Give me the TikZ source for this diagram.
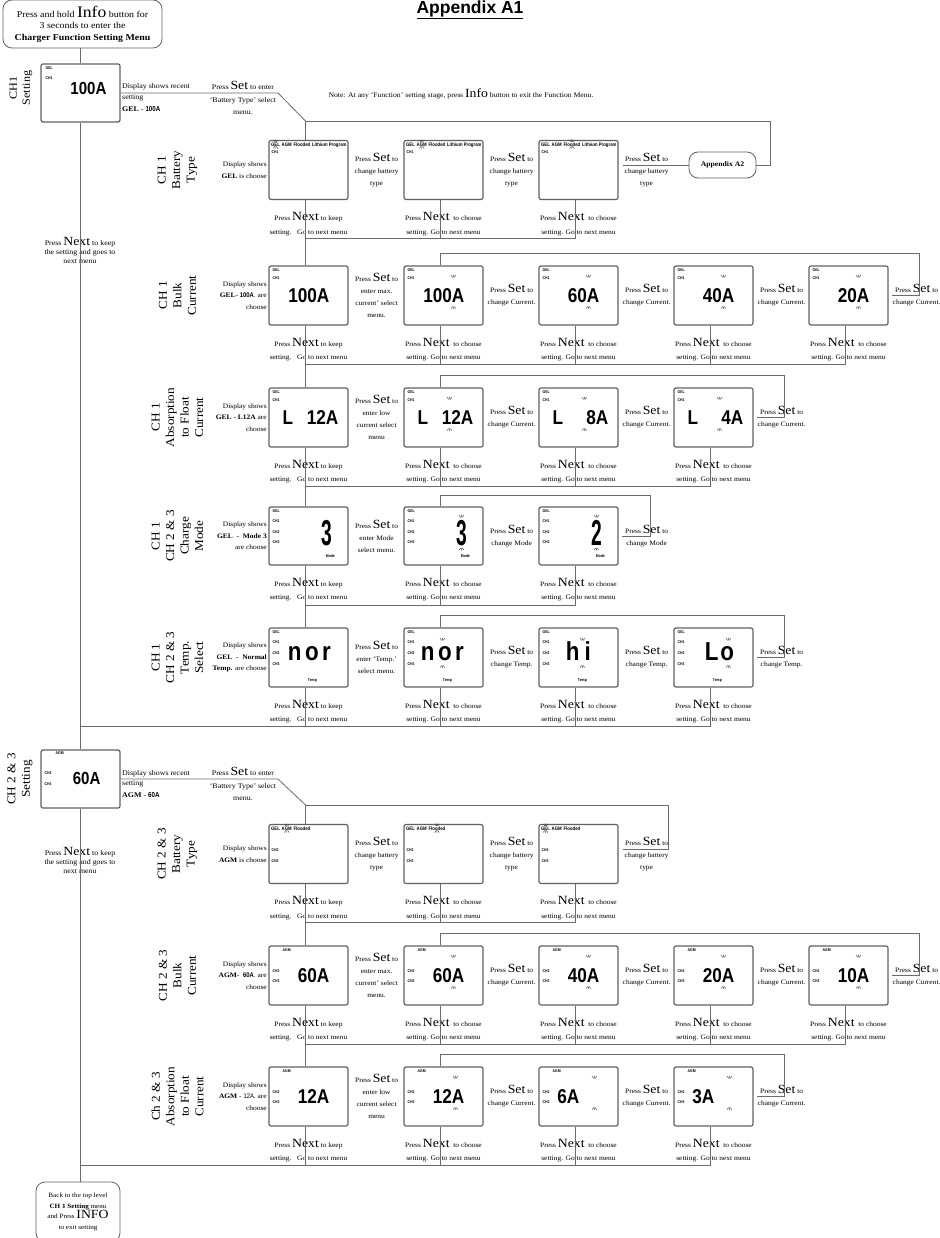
\documentclass[tikz,border=0pt]{standalone}
\usepackage{fontspec}
\setmainfont{Liberation Serif}[FakeStretch=1.1]
\newfontfamily\lcdfont{Liberation Sans}[FakeStretch=0.86]
\newfontfamily\headfont{Liberation Sans}
\usepackage{graphicx}
\usetikzlibrary{positioning, calc}

\newcommand\bigword[1]{{\fontsize{12.5}{12.5}\selectfont #1}}
\newcommand\keeptext{Press \bigword{Next} to keep\\setting.\ \ \ Go to next menu}
\newcommand\choosetext{Press \bigword{Next} \ to choose\\setting. Go to next menu}
\newcommand\pressset[1]{Press \bigword{Set} to\\#1}

\tikzset{
  wire/.style     = {draw=black!58, line width=0.8pt},
  lcd/.style      = {draw=black!62, line width=1.2pt, rounded corners=2pt,
                     minimum width=79pt, minimum height=59pt, inner sep=0pt},
  roundbox/.style = {draw=black!62, line width=0.8pt, rounded corners=9pt,
                     align=center, inner sep=0pt},
  tag/.style      = {font=\lcdfont\bfseries\fontsize{4}{4}\selectfont,
                     inner sep=0pt, anchor=west},
  btag/.style     = {font=\lcdfont\bfseries\fontsize{5}{5}\selectfont,
                     inner sep=0pt, anchor=west},
  val/.style      = {font=\lcdfont\bfseries\fontsize{20}{20}\selectfont,
                     inner sep=0pt, anchor=east},
  seg/.style      = {font=\lcdfont\bfseries\fontsize{36}{36}\selectfont,
                     inner sep=0pt, anchor=base},
  segtemp/.style  = {font=\lcdfont\bfseries\fontsize{26}{26}\selectfont,
                     inner sep=0pt, anchor=base},
  small/.style    = {font=\fontsize{6.8}{12}\selectfont, align=center, inner sep=0pt},
  nexttext/.style = {font=\fontsize{6.8}{13.5}\selectfont, align=center, inner sep=0pt},
  disp/.style     = {font=\fontsize{6.8}{11.5}\selectfont, align=right,
                     inner sep=0pt, anchor=east},
  rowlab/.style   = {font=\fontsize{12}{14.5}\selectfont, align=center,
                     rotate=90, inner sep=0pt},
  blink/.style    = {draw=black!75, line width=0.45pt},
  blinkup/.pic    = {\draw[blink] (-2.4pt,2.2pt) -- (-0.7pt,0pt)
                       (0pt,2.8pt) -- (0pt,0.2pt) (2.4pt,2.2pt) -- (0.7pt,0pt);},
  blinkdn/.pic    = {\draw[blink] (-2.4pt,-2.2pt) -- (-0.7pt,0pt)
                       (0pt,-2.8pt) -- (0pt,-0.2pt) (2.4pt,-2.2pt) -- (0.7pt,0pt);},
}

\begin{document}
\begin{tikzpicture}[x=1pt, y=-1pt]
\useasboundingbox (0,0) rectangle (939,1238);

%% --- Title, start box and note ----------------------------------------
\node[font=\headfont\bfseries\fontsize{17.5}{18}\selectfont] (title) at (470,10)
    {\underline{Appendix A1}};
\node[roundbox, minimum width=159pt, minimum height=48pt,
      font=\fontsize{9}{11.5}\selectfont] (start) at (82.5,24)
    {Press and hold {\fontsize{16}{16}\selectfont Info} button for\\3 seconds to enter the\\
     \textbf{Charger Function Setting Menu}};
\node[font=\fontsize{7}{12}\selectfont, inner sep=0pt] (note) at (461,94)
    {Note: At any `Function' setting stage, press \bigword{Info} button to exit the Function Menu.};

%% --- CH 1 setting -----------------------------------------------------
\node[rowlab, font=\fontsize{11}{13}\selectfont] (ch1L) at (21,88) {CH1\\Setting};
\node[lcd, minimum height=58pt] (ch1) at (80.5,93) {};
\node[tag] (ch1-t1) at ([shift={(5pt,-5pt)}]ch1.north west) {GEL};
\node[tag] (ch1-t2) at ([shift={(5pt,-15pt)}]ch1.north west) {CH1};
\node[val, font=\lcdfont\bfseries\fontsize{17.5}{17.5}\selectfont] (ch1-v)
    at ([shift={(-14pt,5pt)}]ch1.east) {100A};
\node[font=\fontsize{7.2}{12}\selectfont, inner sep=0pt, anchor=base west] (ch1D)
    at (122,89) {Display shows recent};
\node[font=\fontsize{7.2}{12}\selectfont, inner sep=0pt, anchor=north west, align=left] (ch1G)
    at (122,95) {setting\\\textbf{GEL} - {\lcdfont\bfseries 100A}};
\node[small, font=\fontsize{7.2}{12.5}\selectfont] (ch1S) at (243,98)
    {Press \bigword{Set} to enter\\`Battery Type' select\\menu.};
\coordinate (ch1K) at (278,93);
\node[small, font=\fontsize{7.2}{9}\selectfont] (keep1) at (80,250)
    {Press \bigword{Next} to keep\\the setting and goes to\\next menu};

%% --- CH 1 Battery Type ------------------------------------------------
\node[rowlab] (baL) at (177.5,170) {CH 1\\Battery\\Type};
\node[disp] (baD) at (267,170) {Display shows\\\textbf{GEL} is choose};
\foreach \s [count=\i] in {GEL,AGM,Flooded}{
  \node[lcd] (ba\i) at (173.5+135*\i,170) {};
  \node[btag] (ba\i-GEL) at ([shift={(2.5pt,-4.5pt)}]ba\i.north west) {GEL};
  \node[btag, base right=1.4pt of ba\i-GEL] (ba\i-AGM) {AGM};
  \node[btag, base right=1.4pt of ba\i-AGM] (ba\i-Flooded) {Flooded};
  \node[btag, base right=1.4pt of ba\i-Flooded] (ba\i-Lith) {Lithium Program};
  \node[tag] (ba\i-ch) at ([shift={(3pt,-12.5pt)}]ba\i.north west) {CH1};
  \pic at ([yshift=0.3pt]ba\i-\s.north) {blinkup};
  \pic at (ba\i-\s.south) {blinkdn};
  \coordinate (baV\i) at ([xshift=-3pt]ba\i.south);
  \node[nexttext] (baN\i) at ([yshift=-24pt]ba\i.south) {\ifnum\i=1 \keeptext\else\choosetext\fi};
  \node[small] (baS\i) at ($(ba\i.east)+(28pt,0pt)$) {\pressset{change battery\\type}};
}
\node[roundbox, minimum width=67pt, minimum height=26pt,
      font=\bfseries\fontsize{7}{8}\selectfont] (apx) at (722.5,165) {Appendix A2};
\coordinate (baT) at (0,121);
\coordinate (baB) at (0,238);
\coordinate (baX) at (770,121);
\coordinate (baE) at (623,165);
\draw[wire] (start.south -| ch1.north) -- (ch1.north);
\draw[wire] (ch1.east) -- (ch1K) -- (baV1 |- baT) -- (baV1 |- ba1.north);
\draw[wire] (apx.east) -| (baX) -- (baV1 |- baT);
\draw[wire] (baE) -- (apx.west);
\foreach \i in {1,2,3} \draw[wire] (baV\i) -- (baV\i |- baB);
\draw[wire] (baV1 |- baB) -- (baV3 |- baB);

%% --- CH 1 Bulk Current ------------------------------------------------
\node[rowlab] (buL) at (177.5,295.5) {CH 1\\Bulk\\Current};
\node[disp] (buD) at (267,295.5) {Display shows\\\textbf{GEL}- {\lcdfont\bfseries 100A}. are\\choose};
\foreach \v/\m [count=\i] in {100A/0,100A/1,60A/1,40A/1,20A/1}{
  \node[lcd] (bu\i) at (173.5+135*\i,295.5) {};
  \node[tag] (bu\i-t1) at ([shift={(4pt,-5pt)}]bu\i.north west) {GEL};
  \node[tag] (bu\i-t2) at ([shift={(4pt,-13pt)}]bu\i.north west) {CH1};
  \node[val] (bu\i-v) at ([xshift=-19pt]bu\i.east) {\v};
  \ifnum\m=1
    \pic at ([shift={(50pt,-12pt)}]bu\i.north west) {blinkup};
    \pic at ([shift={(50pt,-41pt)}]bu\i.north west) {blinkdn};
  \fi
  \coordinate (buV\i) at ([xshift=-3pt]bu\i.south);
  \node[nexttext] (buN\i) at ([yshift=-24pt]bu\i.south) {\ifnum\i=1 \keeptext\else\choosetext\fi};
  \node[small] (buS\i) at ($(bu\i.east)+(28pt,0pt)$)
    {\ifnum\i=1 \pressset{enter max.\\current' select\\menu.}\else\pressset{change Current.}\fi};
}
\coordinate (buT) at (0,253);
\coordinate (buB) at (0,364);
\coordinate (buX) at (919,295.5);
\coordinate (buE) at (892,295.5);
\draw[wire] (baV1 |- baB) -- (baV1 |- bu1.north);
\draw[wire] (buV2 |- bu2.north) -- (buV2 |- buT) -| (buX) -- (buE);
\foreach \i in {1,...,5} \draw[wire] (buV\i) -- (buV\i |- buB);
\draw[wire] (buV1 |- buB) -- (buV5 |- buB);

%% --- CH 1 Absorption to Float Current ---------------------------------
\node[rowlab] (abL) at (177.5,417.5) {CH 1\\Absorption\\to Float\\Current};
\node[disp] (abD) at (267,417.5) {Display shows\\\textbf{GEL - L12A} are\\choose};
\foreach \v/\m [count=\i] in {12A/0,12A/1,8A/1,4A/1}{
  \node[lcd] (ab\i) at (173.5+135*\i,417.5) {};
  \node[tag] (ab\i-t1) at ([shift={(4pt,-5pt)}]ab\i.north west) {GEL};
  \node[tag] (ab\i-t2) at ([shift={(4pt,-13pt)}]ab\i.north west) {CH1};
  \node[val, anchor=west] (ab\i-l) at ([xshift=14pt]ab\i.west) {L};
  \node[val] (ab\i-v) at ([xshift=-10pt]ab\i.east) {\v};
  \ifnum\m=1
    \pic at ([shift={(46pt,-12pt)}]ab\i.north west) {blinkup};
    \pic at ([shift={(46pt,-41pt)}]ab\i.north west) {blinkdn};
  \fi
  \coordinate (abV\i) at ([xshift=-3pt]ab\i.south);
  \node[nexttext] (abN\i) at ([yshift=-24pt]ab\i.south) {\ifnum\i=1 \keeptext\else\choosetext\fi};
  \node[small] (abS\i) at ($(ab\i.east)+(28pt,0pt)$)
    {\ifnum\i=1 \pressset{enter low\\current select\\menu}\else\pressset{change Current.}\fi};
}
\coordinate (abT) at (0,375);
\coordinate (abB) at (0,486);
\coordinate (abX) at (784,417.5);
\coordinate (abE) at (757,417.5);
\draw[wire] (buV1 |- buB) -- (buV1 |- ab1.north);
\draw[wire] (abV2 |- ab2.north) -- (abV2 |- abT) -| (abX) -- (abE);
\foreach \i in {1,...,4} \draw[wire] (abV\i) -- (abV\i |- abB);
\draw[wire] (abV1 |- abB) -- (abV4 |- abB);

%% --- CH 1 / CH 2 & 3 Charge Mode --------------------------------------
\node[rowlab] (moL) at (177.5,536) {CH 1\\CH 2 \& 3\\Charge\\Mode};
\node[disp] (moD) at (267,536) {Display shows\\\textbf{GEL\ \ -\ \ Mode 3}\\are choose};
\foreach \v/\m [count=\i] in {3/0,3/1,2/1}{
  \node[lcd, minimum height=58pt] (mo\i) at (173.5+135*\i,536) {};
  \node[tag] (mo\i-t1) at ([shift={(4pt,-5pt)}]mo\i.north west) {GEL};
  \node[tag] (mo\i-t2) at ([shift={(4pt,-15pt)}]mo\i.north west) {CH1};
  \node[tag] (mo\i-t3) at ([shift={(4pt,-25.5pt)}]mo\i.north west) {CH2};
  \node[tag] (mo\i-t4) at ([shift={(4pt,-36pt)}]mo\i.north west) {CH3};
  \node[seg] (mo\i-v) at ([shift={(58pt,-39pt)}]mo\i.north west) {\scalebox{0.62}[1]{\v}};
  \node[tag, anchor=center] (mo\i-md) at ([shift={(62pt,-50pt)}]mo\i.north west) {Mode};
  \ifnum\m=1
    \pic at ([shift={(58pt,-11pt)}]mo\i.north west) {blinkup};
    \pic at ([shift={(58pt,-41.5pt)}]mo\i.north west) {blinkdn};
  \fi
  \coordinate (moV\i) at ([xshift=-3pt]mo\i.south);
  \node[nexttext] (moN\i) at ([yshift=-24pt]mo\i.south) {\ifnum\i=1 \keeptext\else\choosetext\fi};
  \node[small] (moS\i) at ($(mo\i.east)+(28pt,0pt)$)
    {\ifnum\i=1 \pressset{enter Mode\\select menu.}\else\pressset{change Mode}\fi};
}
\coordinate (moT) at (0,495);
\coordinate (moB) at (0,605);
\coordinate (moX) at (650,536);
\coordinate (moE) at (622,536);
\draw[wire] (abV1 |- abB) -- (abV1 |- mo1.north);
\draw[wire] (moV2 |- mo2.north) -- (moV2 |- moT) -| (moX) -- (moE);
\foreach \i in {1,2,3} \draw[wire] (moV\i) -- (moV\i |- moB);
\draw[wire] (moV1 |- moB) -- (moV3 |- moB);

%% --- CH 1 / CH 2 & 3 Temp. Select -------------------------------------
\node[rowlab] (teL) at (177.5,657.5) {CH 1\\CH 2 \& 3\\Temp.\\Select};
\node[disp] (teD) at (267,657.5) {Display shows\\\textbf{GEL\ \ -\ \ Normal}\\\textbf{Temp.} are choose};
\foreach \v/\x/\m [count=\i] in {{n\hspace{3.5pt}o\hspace{3.5pt}r}/41/0,
                                 {n\hspace{3.5pt}o\hspace{3.5pt}r}/39/39,
                                 {h\hspace{5pt}i}/40/44,
                                 {L\hspace{2pt}o}/46/55}{
  \node[lcd] (te\i) at (173.5+135*\i,657.5) {};
  \node[tag] (te\i-t1) at ([shift={(4pt,-5pt)}]te\i.north west) {GEL};
  \node[tag] (te\i-t2) at ([shift={(4pt,-14.5pt)}]te\i.north west) {CH1};
  \node[tag] (te\i-t3) at ([shift={(4pt,-25.5pt)}]te\i.north west) {CH2};
  \node[tag] (te\i-t4) at ([shift={(4pt,-36.5pt)}]te\i.north west) {CH3};
  \node[segtemp] (te\i-v) at ([shift={(\x pt,-33pt)}]te\i.north west) {\v};
  \node[tag, anchor=center] (te\i-tp) at ([shift={(44pt,-53pt)}]te\i.north west) {Temp};
  \ifnum\m>0
    \pic at ([shift={(\m pt,-13pt)}]te\i.north west) {blinkup};
    \pic at ([shift={(\m pt,-38pt)}]te\i.north west) {blinkdn};
  \fi
  \coordinate (teV\i) at ([xshift=-3pt]te\i.south);
  \node[nexttext] (teN\i) at ([yshift=-24pt]te\i.south) {\ifnum\i=1 \keeptext\else\choosetext\fi};
  \node[small] (teS\i) at ($(te\i.east)+(28pt,0pt)$)
    {\ifnum\i=1 \pressset{enter `Temp.'\\select menu.}\else\pressset{change Temp.}\fi};
}
\coordinate (teT) at (0,615);
\coordinate (teB) at (0,726);
\coordinate (teX) at (784,657.5);
\coordinate (teE) at (757,657.5);
\draw[wire] (moV1 |- moB) -- (moV1 |- te1.north);
\draw[wire] (teV2 |- te2.north) -- (teV2 |- teT) -| (teX) -- (teE);
\foreach \i in {1,...,4} \draw[wire] (teV\i) -- (teV\i |- teB);
\draw[wire] (ch1.south |- teB) -- (teV4 |- teB);

%% --- CH 2 & 3 setting -------------------------------------------------
\node[rowlab, font=\fontsize{12}{14.5}\selectfont] (ch2L) at (20,779) {CH 2 \& 3\\Setting};
\node[lcd, minimum height=58pt] (ch2) at (80.5,779) {};
\node[tag] (ch2-t1) at ([shift={(15pt,-3.5pt)}]ch2.north west) {AGM};
\node[tag] (ch2-t2) at ([shift={(4pt,-24pt)}]ch2.north west) {CH2};
\node[tag] (ch2-t3) at ([shift={(4pt,-35pt)}]ch2.north west) {CH3};
\node[val, font=\lcdfont\bfseries\fontsize{17.5}{17.5}\selectfont] (ch2-v)
    at ([shift={(-20pt,1pt)}]ch2.east) {60A};
\node[font=\fontsize{7.2}{12}\selectfont, inner sep=0pt, anchor=base west] (ch2D)
    at (122,775) {Display shows recent};
\node[font=\fontsize{7.2}{12}\selectfont, inner sep=0pt, anchor=north west, align=left] (ch2G)
    at (122,781) {setting\\\textbf{AGM} - {\lcdfont\bfseries 60A}};
\node[small, font=\fontsize{7.2}{12.5}\selectfont] (ch2S) at (243,784)
    {Press \bigword{Set} to enter\\`Battery Type' select\\menu.};
\coordinate (ch2K) at (278,779);
\node[small, font=\fontsize{7.2}{9}\selectfont] (keep2) at (80,860)
    {Press \bigword{Next} to keep\\the setting and goes to\\next menu};
\draw[wire] (ch1.south) -- (ch2.north);

%% --- CH 2 & 3 Battery Type --------------------------------------------
\node[rowlab] (bbL) at (177.5,854) {CH 2 \& 3\\Battery\\Type};
\node[disp] (bbD) at (267,854) {Display shows\\\textbf{AGM} is choose};
\foreach \s [count=\i] in {AGM,Flooded,GEL}{
  \node[lcd] (bb\i) at (173.5+135*\i,854) {};
  \node[btag] (bb\i-GEL) at ([shift={(2.5pt,-4.5pt)}]bb\i.north west) {GEL};
  \node[btag, base right=1.4pt of bb\i-GEL] (bb\i-AGM) {AGM};
  \node[btag, base right=1.4pt of bb\i-AGM] (bb\i-Flooded) {Flooded};
  \node[tag] (bb\i-t2) at ([shift={(3pt,-26pt)}]bb\i.north west) {CH2};
  \node[tag] (bb\i-t3) at ([shift={(3pt,-37pt)}]bb\i.north west) {CH3};
  \pic at ([yshift=0.3pt]bb\i-\s.north) {blinkup};
  \pic at (bb\i-\s.south) {blinkdn};
  \coordinate (bbV\i) at ([xshift=-3pt]bb\i.south);
  \node[nexttext] (bbN\i) at ([yshift=-24pt]bb\i.south) {\ifnum\i=1 \keeptext\else\choosetext\fi};
  \node[small] (bbS\i) at ($(bb\i.east)+(28pt,0pt)$) {\pressset{change battery\\type}};
}
\coordinate (bbT) at (0,805);
\coordinate (bbB) at (0,922);
\coordinate (bbX) at (668,849);
\coordinate (bbE) at (623,849);
\draw[wire] (ch2.east) -- (ch2K) -- (bbV1 |- bbT) -- (bbV1 |- bb1.north);
\draw[wire] (bbV1 |- bbT) -| (bbX) -- (bbE);
\foreach \i in {1,2,3} \draw[wire] (bbV\i) -- (bbV\i |- bbB);
\draw[wire] (bbV1 |- bbB) -- (bbV3 |- bbB);

%% --- CH 2 & 3 Bulk Current --------------------------------------------
\node[rowlab] (bkL) at (177.5,975.5) {CH 2 \& 3\\Bulk\\Current};
\node[disp] (bkD) at (267,975.5) {Display shows\\\textbf{AGM}-\ \ {\lcdfont\bfseries 60A}. are\\choose};
\foreach \v/\m [count=\i] in {60A/0,60A/1,40A/1,20A/1,10A/1}{
  \node[lcd] (bk\i) at (173.5+135*\i,975.5) {};
  \node[tag] (bk\i-t1) at ([shift={(14pt,-5pt)}]bk\i.north west) {AGM};
  \node[tag] (bk\i-t2) at ([shift={(4pt,-26pt)}]bk\i.north west) {CH2};
  \node[tag] (bk\i-t3) at ([shift={(4pt,-36pt)}]bk\i.north west) {CH3};
  \node[val] (bk\i-v) at ([xshift=-19pt]bk\i.east) {\v};
  \ifnum\m=1
    \pic at ([shift={(50pt,-12pt)}]bk\i.north west) {blinkup};
    \pic at ([shift={(50pt,-41pt)}]bk\i.north west) {blinkdn};
  \fi
  \coordinate (bkV\i) at ([xshift=-3pt]bk\i.south);
  \node[nexttext] (bkN\i) at ([yshift=-24pt]bk\i.south) {\ifnum\i=1 \keeptext\else\choosetext\fi};
  \node[small] (bkS\i) at ($(bk\i.east)+(28pt,0pt)$)
    {\ifnum\i=1 \pressset{enter max.\\current' select\\menu.}\else\pressset{change Current.}\fi};
}
\coordinate (bkT) at (0,933);
\coordinate (bkB) at (0,1044);
\coordinate (bkX) at (919,975.5);
\coordinate (bkE) at (892,975.5);
\draw[wire] (bbV1 |- bbB) -- (bbV1 |- bk1.north);
\draw[wire] (bkV2 |- bk2.north) -- (bkV2 |- bkT) -| (bkX) -- (bkE);
\foreach \i in {1,...,5} \draw[wire] (bkV\i) -- (bkV\i |- bkB);
\draw[wire] (bkV1 |- bkB) -- (bkV5 |- bkB);

%% --- Ch 2 & 3 Absorption to Float Current -----------------------------
\node[rowlab] (aaL) at (177.5,1096.5) {Ch 2 \& 3\\Absorption\\to Float\\Current};
\node[disp] (aaD) at (267,1096.5) {Display shows\\\textbf{AGM} - {\lcdfont 12A}. are\\choose};
\foreach \v/\m/\r [count=\i] in {12A/0/19,12A/52/19,6A/56/39,3A/56/39}{
  \node[lcd] (aa\i) at (173.5+135*\i,1096.5) {};
  \node[tag] (aa\i-t1) at ([shift={(14pt,-5pt)}]aa\i.north west) {AGM};
  \node[tag] (aa\i-t2) at ([shift={(4pt,-26pt)}]aa\i.north west) {CH2};
  \node[tag] (aa\i-t3) at ([shift={(4pt,-36pt)}]aa\i.north west) {CH3};
  \node[val] (aa\i-v) at ([xshift=-\r pt]aa\i.east) {\v};
  \ifnum\m>0
    \pic at ([shift={(\m pt,-12pt)}]aa\i.north west) {blinkup};
    \pic at ([shift={(\m pt,-41pt)}]aa\i.north west) {blinkdn};
  \fi
  \coordinate (aaV\i) at ([xshift=-3pt]aa\i.south);
  \node[nexttext] (aaN\i) at ([yshift=-24pt]aa\i.south) {\ifnum\i=1 \keeptext\else\choosetext\fi};
  \node[small] (aaS\i) at ($(aa\i.east)+(28pt,0pt)$)
    {\ifnum\i=1 \pressset{enter low\\current select\\menu}\else\pressset{change Current.}\fi};
}
\coordinate (aaT) at (0,1054);
\coordinate (aaB) at (0,1165);
\coordinate (aaX) at (784,1096.5);
\coordinate (aaE) at (757,1096.5);
\draw[wire] (bkV1 |- bkB) -- (bkV1 |- aa1.north);
\draw[wire] (aaV2 |- aa2.north) -- (aaV2 |- aaT) -| (aaX) -- (aaE);
\foreach \i in {1,...,4} \draw[wire] (aaV\i) -- (aaV\i |- aaB);
\draw[wire] (ch2.south |- aaB) -- (aaV4 |- aaB);

%% --- Back to top level ------------------------------------------------
\node[roundbox, minimum width=84pt, minimum height=60pt,
      font=\fontsize{6.5}{10.5}\selectfont] (info) at (78,1212)
    {Back to the top level\\\textbf{CH 1 Setting} menu\\and Press \bigword{INFO}\\to exit setting};
\draw[wire] (ch2.south) -- (ch2.south |- info.north);
\end{tikzpicture}
\end{document}
